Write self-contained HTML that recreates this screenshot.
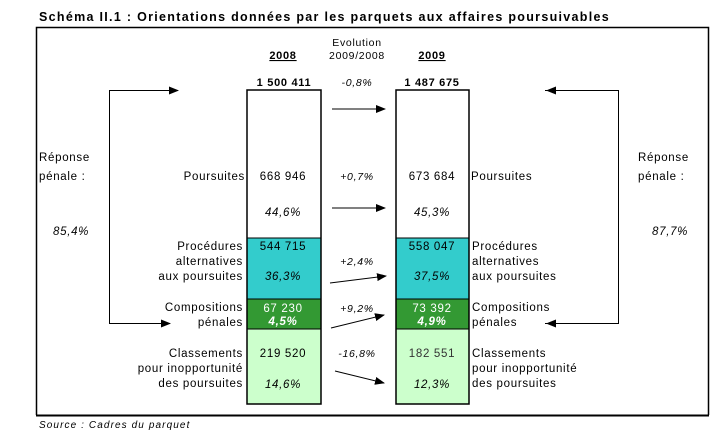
<!DOCTYPE html>
<html><head><meta charset="utf-8"><style>
body{margin:0;background:#fff}
svg{display:block;font-family:"Liberation Sans",Arial,sans-serif}
</style></head><body>
<svg width="727" height="435" viewBox="0 0 727 435" xmlns="http://www.w3.org/2000/svg">
<defs><marker id="a" markerWidth="10" markerHeight="8" refX="9" refY="4" orient="auto" markerUnits="userSpaceOnUse"><path d="M0,0 L10,4 L0,8 z" fill="#000"/></marker></defs>
<text x="39" y="21" font-size="12.5" font-weight="bold" letter-spacing="1.3">Schéma II.1 : Orientations données par les parquets aux affaires poursuivables</text>
<path d="M36.5,415 V27.5 H708.5 V415" fill="none" stroke="#000" stroke-width="1.5"/>
<line x1="36" y1="415.5" x2="709" y2="415.5" stroke="#000" stroke-width="2"/>
<text x="39" y="428" font-size="10" font-style="italic" letter-spacing="1.1">Source : Cadres du parquet</text>

<rect x="247" y="238" width="74" height="61" fill="#33cccc"/>
<rect x="247" y="299" width="74" height="30" fill="#339933"/>
<rect x="247" y="329" width="74" height="75" fill="#ccffcc"/>
<rect x="396" y="238" width="73" height="61" fill="#33cccc"/>
<rect x="396" y="299" width="73" height="30" fill="#339933"/>
<rect x="396" y="329" width="73" height="75" fill="#ccffcc"/>
<g stroke="#000" stroke-width="1.5" fill="none">
<rect x="247" y="90" width="74" height="314"/>
<rect x="396" y="90" width="73" height="314"/>
</g>
<g stroke="#000" stroke-width="1">
<line x1="247" y1="238" x2="321" y2="238"/><line x1="247" y1="299" x2="321" y2="299"/><line x1="247" y1="329" x2="321" y2="329"/>
<line x1="396" y1="238" x2="469" y2="238"/><line x1="396" y1="299" x2="469" y2="299"/><line x1="396" y1="329" x2="469" y2="329"/>
</g>

<g stroke="#000" stroke-width="1" fill="none">
<path d="M178,90.5 H109.5 V323.5 H170" marker-end="url(#a)"/>
<path d="M109.5,90.5 H178" marker-end="url(#a)"/>
<path d="M545,90.5 H618.5 V323.5 H545" />
<path d="M618.5,90.5 H547" marker-end="url(#a)"/>
<path d="M618.5,323.5 H547" marker-end="url(#a)"/>
<path d="M332,109 H385" marker-end="url(#a)"/>
<path d="M332,208 H385" marker-end="url(#a)"/>
<path d="M330,283 L386,276" marker-end="url(#a)"/>
<path d="M331,328 L384,315" marker-end="url(#a)"/>
<path d="M335,371 L384,383" marker-end="url(#a)"/>
</g>

<g font-size="11.5" fill="#000" letter-spacing="0.7">
<text x="283" y="59" text-anchor="middle" font-weight="bold" text-decoration="underline" font-size="11">2008</text>
<text x="432" y="59" text-anchor="middle" font-weight="bold" text-decoration="underline" font-size="11">2009</text>
<text x="357" y="46" text-anchor="middle" font-size="10.5">Evolution</text>
<text x="357" y="59" text-anchor="middle" font-size="10.5">2009/2008</text>
<text x="284" y="86" text-anchor="middle" font-weight="bold" font-size="11">1 500 411</text>
<text x="432" y="86" text-anchor="middle" font-weight="bold" font-size="11">1 487 675</text>
<text x="357" y="86" text-anchor="middle" font-style="italic" font-size="10.5">-0,8%</text>

<text x="39" y="161">Réponse</text><text x="39" y="180">pénale :</text>
<text x="53" y="235" font-style="italic">85,4%</text>
<text x="638" y="161">Réponse</text><text x="638" y="180">pénale :</text>
<text x="652" y="235" font-style="italic">87,7%</text>

<text x="245" y="180" text-anchor="end">Poursuites</text>
<text x="283" y="180" text-anchor="middle">668 946</text>
<text x="283" y="216" text-anchor="middle" font-style="italic">44,6%</text>
<text x="357" y="180" text-anchor="middle" font-style="italic" font-size="10.5">+0,7%</text>
<text x="432" y="180" text-anchor="middle">673 684</text>
<text x="432" y="216" text-anchor="middle" font-style="italic">45,3%</text>
<text x="471" y="180">Poursuites</text>

<text x="243" y="250" text-anchor="end">Procédures</text>
<text x="243" y="265" text-anchor="end">alternatives</text>
<text x="243" y="280" text-anchor="end">aux poursuites</text>
<text x="283" y="250" text-anchor="middle">544 715</text>
<text x="283" y="280" text-anchor="middle" font-style="italic">36,3%</text>
<text x="357" y="265" text-anchor="middle" font-style="italic" font-size="10.5">+2,4%</text>
<text x="432" y="250" text-anchor="middle">558 047</text>
<text x="432" y="280" text-anchor="middle" font-style="italic">37,5%</text>
<text x="472" y="250">Procédures</text>
<text x="472" y="265">alternatives</text>
<text x="472" y="280">aux poursuites</text>

<text x="243" y="311" text-anchor="end">Compositions</text>
<text x="243" y="326" text-anchor="end">pénales</text>
<text x="283" y="312" text-anchor="middle" fill="#fff">67 230</text>
<text x="283" y="325" text-anchor="middle" fill="#fff" font-style="italic" font-weight="bold">4,5%</text>
<text x="357" y="312" text-anchor="middle" font-style="italic" font-size="10.5">+9,2%</text>
<text x="432" y="312" text-anchor="middle" fill="#fff">73 392</text>
<text x="432" y="325" text-anchor="middle" fill="#fff" font-style="italic" font-weight="bold">4,9%</text>
<text x="472" y="311">Compositions</text>
<text x="472" y="326">pénales</text>

<text x="243" y="357" text-anchor="end">Classements</text>
<text x="243" y="372" text-anchor="end">pour inopportunité</text>
<text x="243" y="387" text-anchor="end">des poursuites</text>
<text x="283" y="357" text-anchor="middle">219 520</text>
<text x="283" y="388" text-anchor="middle" font-style="italic">14,6%</text>
<text x="357" y="357" text-anchor="middle" font-style="italic" font-size="10.5">-16,8%</text>
<text x="432" y="357" text-anchor="middle" fill="#333">182 551</text>
<text x="432" y="388" text-anchor="middle" font-style="italic">12,3%</text>
<text x="472" y="357">Classements</text>
<text x="472" y="372">pour inopportunité</text>
<text x="472" y="387">des poursuites</text>
</g>
</svg>
</body></html>
